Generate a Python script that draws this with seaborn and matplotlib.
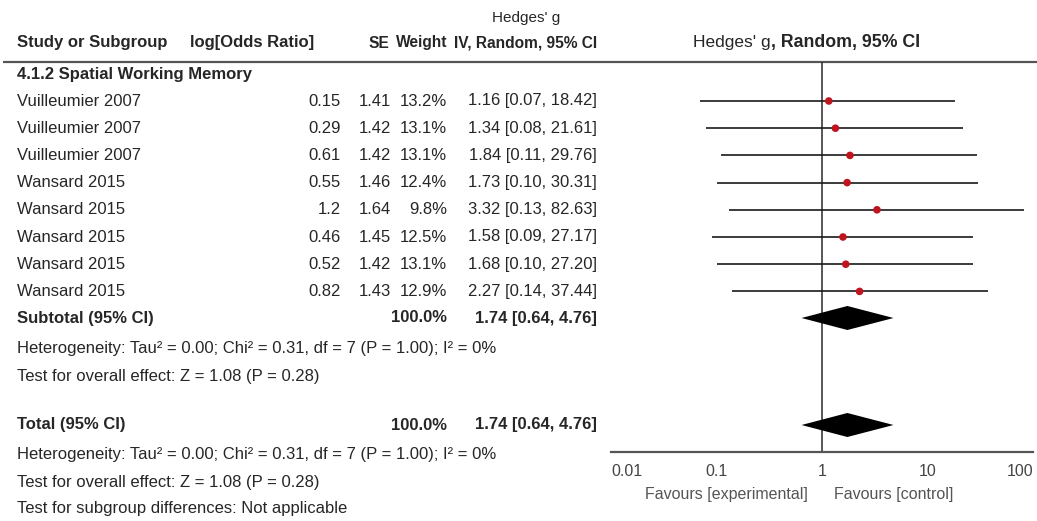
import matplotlib
matplotlib.use("Agg")
import matplotlib.pyplot as plt
from matplotlib import font_manager
import seaborn as sns
import pandas as pd

# ---------------- data ----------------
studies = ["Vuilleumier 2007", "Vuilleumier 2007", "Vuilleumier 2007",
           "Wansard 2015", "Wansard 2015", "Wansard 2015", "Wansard 2015", "Wansard 2015"]
log_or = [0.15, 0.29, 0.61, 0.55, 1.2, 0.46, 0.52, 0.82]
se = [1.41, 1.42, 1.42, 1.46, 1.64, 1.45, 1.42, 1.43]
weight = [13.2, 13.1, 13.1, 12.4, 9.8, 12.5, 13.1, 12.9]
hedges_g = [1.16, 1.34, 1.84, 1.73, 3.32, 1.58, 1.68, 2.27]
ci_low = [0.07, 0.08, 0.11, 0.10, 0.13, 0.09, 0.10, 0.14]
ci_high = [18.42, 21.61, 29.76, 30.31, 82.63, 27.17, 27.20, 37.44]
pooled = [1.74]
pooled_low = [0.64]
pooled_high = [4.76]
tick_values = [0.01, 0.1, 1, 10, 100]
tick_labels = ["0.01", "0.1", "1", "10", "100"]

subgroup = "4.1.2 Spatial Working Memory"
heterogeneity = "Heterogeneity: Tau\u00b2 = 0.00; Chi\u00b2 = 0.31, df = 7 (P = 1.00); I\u00b2 = 0%"
overall = "Test for overall effect: Z = 1.08 (P = 0.28)"
subgroup_diff = "Test for subgroup differences: Not applicable"

# ---------------- style ----------------
sns.set_style("white")
fam = "Liberation Sans"
for cand in ["Liberation Sans Narrow", "Arial Narrow"]:
    try:
        font_manager.findfont(cand, fallback_to_default=False)
        fam = cand
        break
    except Exception:
        pass
plt.rcParams["font.family"] = [fam, "DejaVu Sans"]

FS = 12.0 if fam == "Liberation Sans" else 14.5
TXT = "#262626"
GRAY = "#555555"

W, H = 1037, 521
fig = plt.figure(figsize=(W / 100, H / 100), dpi=100)

# text layer in pixel coordinates
tax = fig.add_axes([0, 0, 1, 1])
tax.set_xlim(0, W)
tax.set_ylim(H, 0)
tax.axis("off")


def put(x, y, s, ha="left", bold=False, color=TXT, size=FS):
    return tax.text(x, y, s, ha=ha, va="center", fontsize=size,
                    fontweight="bold" if bold else "normal", color=color)


# column layout (pixels)
X_STUDY, X_LOG, X_SE, X_W, X_CI = 17, 341, 391, 447, 597
X_LOGHDR = 190
Y_HDR = 43
Y_SUB = 74
Y0, DY = 101, 27.2
row_y = [Y0 + i * DY for i in range(len(studies))]
Y_SUBTOT = 318
AX_TOP, AX_BOT = 62, 452
X_AXL, X_AXR = 611, 1033

# headers
put(526, 18, "Hedges' g", ha="center", size=FS - 1)
put(X_STUDY, Y_HDR, "Study or Subgroup", bold=True)
put(X_LOGHDR, Y_HDR, "log[Odds Ratio]", bold=True)
put(X_SE - 2, Y_HDR, "SE", ha="right", bold=True, size=FS - 0.8)
put(X_W, Y_HDR, "Weight", ha="right", bold=True, size=FS - 0.8)
put(X_CI, Y_HDR, "IV, Random, 95% CI", ha="right", bold=True, size=FS - 0.8)
t1 = put(693, Y_HDR, "Hedges' g", size=FS + 0.5)
tax.annotate(", Random, 95% CI", xy=(1, 0.5), xycoords=t1, va="center",
             fontsize=FS + 0.8, fontweight="bold", color=TXT)
tax.plot([3, W], [AX_TOP, AX_TOP], color=GRAY, lw=1.6, solid_capstyle="butt")

put(X_STUDY, Y_SUB, subgroup, bold=True)

for i, y in enumerate(row_y):
    put(X_STUDY, y, studies[i])
    put(X_LOG, y, f"{log_or[i]:g}", ha="right")
    put(X_SE, y, f"{se[i]:.2f}", ha="right")
    put(X_W, y, f"{weight[i]:.1f}%", ha="right")
    put(X_CI, y, f"{hedges_g[i]:.2f} [{ci_low[i]:.2f}, {ci_high[i]:.2f}]", ha="right")

# subtotal
put(X_STUDY, Y_SUBTOT, "Subtotal (95% CI)", bold=True)
put(X_W, Y_SUBTOT, "100.0%", ha="right", bold=True)
put(X_CI, Y_SUBTOT, f"{pooled[0]:.2f} [{pooled_low[0]:.2f}, {pooled_high[0]:.2f}]", ha="right", bold=True)
put(X_STUDY, 349, heterogeneity)
put(X_STUDY, 377, overall)

# total
Y_TOT = 425
put(X_STUDY, Y_TOT, "Total (95% CI)", bold=True)
put(X_W, Y_TOT, "100.0%", ha="right", bold=True)
put(X_CI, Y_TOT, f"{pooled[0]:.2f} [{pooled_low[0]:.2f}, {pooled_high[0]:.2f}]", ha="right", bold=True)
put(X_STUDY, 455, heterogeneity)
put(X_STUDY, 483, overall)
put(X_STUDY, 509, subgroup_diff)

put(808, 495, "Favours [experimental]", ha="right", color="#555555", size=FS - 0.5)
put(834, 495, "Favours [control]", ha="left", color="#555555", size=FS - 0.5)

# ---------------- forest axes ----------------
fax = fig.add_axes([X_AXL / W, (H - AX_BOT) / H, (X_AXR - X_AXL) / W, (AX_BOT - AX_TOP) / H])
fax.patch.set_alpha(0)
fax.set_xscale("log")
fax.set_xlim(0.01, 100)
fax.set_ylim(AX_BOT, AX_TOP)
for s in ["left", "right", "top"]:
    fax.spines[s].set_visible(False)
fax.spines["bottom"].set_color(GRAY)
fax.spines["bottom"].set_linewidth(1.6)
fax.set_yticks([])
fax.set_xticks(tick_values)
fax.set_xticklabels(tick_labels)
fax.minorticks_off()
fax.tick_params(axis="x", direction="inout", length=11, width=1.6, color=GRAY,
                labelsize=FS - 0.5, labelcolor="#444444", pad=3)
lbls = fax.get_xticklabels()
lbls[0].set_ha("left")
lbls[-1].set_ha("right")

fax.axvline(1, color="#2a2a2a", lw=1.1, zorder=1)

df = pd.DataFrame({"g": hedges_g, "lo": ci_low, "hi": ci_high, "y": row_y})
fax.hlines(df["y"], df["lo"], df["hi"], color="#1a1a1a", lw=1.2, zorder=2)
sns.scatterplot(data=df, x="g", y="y", ax=fax, color="#c0141e", marker="o",
                s=30, edgecolor="none", zorder=3, legend=False)
fax.set_xlabel("")
fax.set_ylabel("")

half = 12
for yc in [Y_SUBTOT, Y_TOT]:
    fax.fill([pooled_low[0], pooled[0], pooled_high[0], pooled[0]],
             [yc, yc - half, yc, yc + half], color="black", zorder=3, lw=0)

fig.savefig("out.png", dpi=100)
